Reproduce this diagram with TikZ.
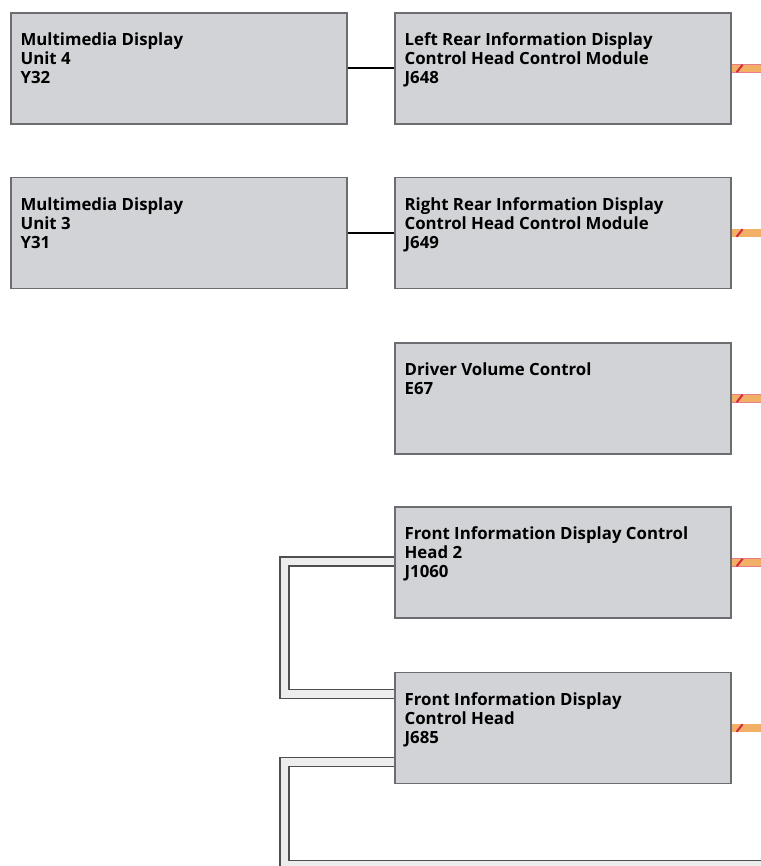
\documentclass[tikz,border=0pt]{standalone}
\usepackage{fontspec}
\setmainfont{Open Sans}
\usetikzlibrary{positioning}

\definecolor{boxgray}{HTML}{D1D3D6}
\definecolor{boxline}{HTML}{6B6D70}
\definecolor{busorange}{HTML}{F2B066}
\definecolor{busred}{HTML}{D7263D}
\definecolor{fibrelight}{HTML}{EDEDED}
\definecolor{fibredark}{HTML}{4F4F4F}

\tikzset{
  unit/.style={draw=boxline, line width=1.2pt, fill=boxgray,
    minimum width=336pt, minimum height=111pt, inner sep=0pt},
  unittext/.style={anchor=north west, align=left, inner sep=0pt,
    font=\fontsize{16.8}{19}\selectfont\bfseries},
  wire/.style={line width=2pt, black},
  fibre/.style={draw=fibredark, line width=1.4pt, double=fibrelight,
    double distance=7.5pt, line join=miter},
  bus/.style={draw=busred!60, line width=0.6pt, double=busorange,
    double distance=7.5pt},
}

\begin{document}
\begin{tikzpicture}[x=1pt,y=-1pt]

\useasboundingbox (0,0) rectangle (760,866);

\coordinate (fibre-x) at (284.5,0);
\coordinate (fibre-end) at (790,865);
\coordinate (bus-end) at (790,0);

\node [unit] (y32) at (179,68.5) {};
\node [unit] (y31) at (179,233) {};
\node [unit] (j648) at (563,68.5) {};
\node [unit] (j649) at (563,233) {};
\node [unit] (e67) at (563,398.5) {};
\node [unit] (j1060) at (563,562.5) {};
\node [unit] (j685) at (563,728) {};

\draw [wire] (y32.east) -- (j648.west);
\draw [wire] (y31.east) -- (j649.west);

% fibre links on the left of the front units
\draw [fibre] ([yshift=1pt]j1060.west) -- ([yshift=1pt]j1060.west -| fibre-x) |- ([yshift=34pt]j685.west);
\draw [fibre] ([yshift=-34pt]j685.west) -- ([yshift=-34pt]j685.west -| fibre-x) -- (fibre-x |- fibre-end) -- (fibre-end);

\foreach \unitname in {j648,j649,e67,j1060,j685} {
  \draw [bus] (\unitname.east) -- (\unitname.east -| bus-end);
  \draw [busred, line width=2pt] ([xshift=5pt,yshift=-3.8pt]\unitname.east) -- ([xshift=11pt,yshift=3.8pt]\unitname.east);
}

\node [unittext] (y32-text) at ([shift={(10,20.5)}]y32.north west) {Multimedia Display\\Unit 4\\Y32};
\node [unittext] (y31-text) at ([shift={(10,20.5)}]y31.north west) {Multimedia Display\\Unit 3\\Y31};
\node [unittext] (j648-text) at ([shift={(10,20.5)}]j648.north west) {Left Rear Information Display\\Control Head Control Module\\J648};
\node [unittext] (j649-text) at ([shift={(10,20.5)}]j649.north west) {Right Rear Information Display\\Control Head Control Module\\J649};
\node [unittext] (e67-text) at ([shift={(10,20.5)}]e67.north west) {Driver Volume Control\\E67};
\node [unittext] (j1060-text) at ([shift={(10,20.5)}]j1060.north west) {Front Information Display Control\\Head 2\\J1060};
\node [unittext] (j685-text) at ([shift={(10,20.5)}]j685.north west) {Front Information Display\\Control Head\\J685};

\end{tikzpicture}
\end{document}
